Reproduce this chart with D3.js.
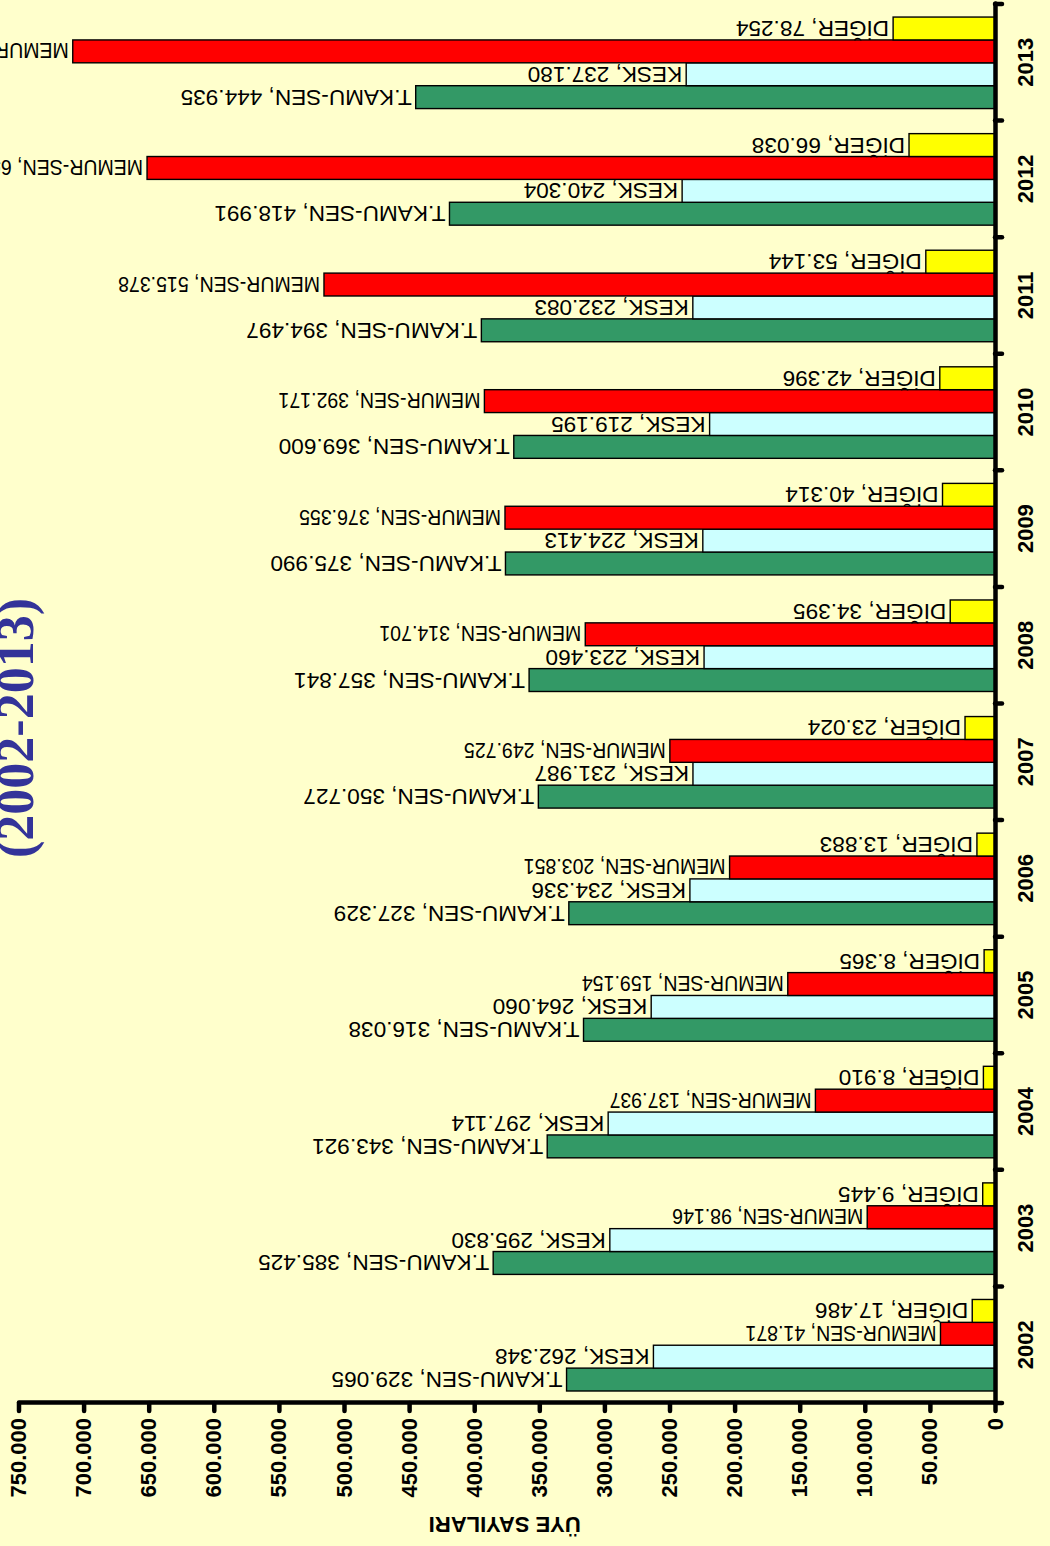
<!DOCTYPE html>
<html><head><meta charset="utf-8">
<script src="https://cdn.jsdelivr.net/npm/d3@7"></script>
<style>html,body{margin:0;padding:0;background:#FFFFCC;overflow:hidden}</style>
</head><body>
<script>
const years = ["2002","2003","2004","2005","2006","2007","2008","2009","2010","2011","2012","2013"];
const seriesNames = ["T.KAMU-SEN","KESK","MEMUR-SEN","DİĞER"];
const seriesColors = ["#339966","#CCFFFF","#FF0000","#FFFF00"];
const tkamuValues = [329065,385425,343921,316038,327329,350727,357841,375990,369600,394497,418991,444935];
const keskValues  = [262348,295830,297114,264060,234336,231987,223460,224413,219195,232083,240304,237180];
const memurValues = [41871,98146,137937,159154,203851,249725,314701,376355,392171,515378,651271,708334];
const digerValues = [17486,9445,8910,8365,13883,23024,34395,40314,42396,53144,66038,78254];
const valueTicks = [0,50000,100000,150000,200000,250000,300000,350000,400000,450000,500000,550000,600000,650000,700000,750000];
const titleText = "(2002-2013)";
const axisTitle = "ÜYE SAYILARI";

const allValues = [tkamuValues, keskValues, memurValues, digerValues];
const loc = d3.formatLocale({decimal:",", thousands:".", grouping:[3], currency:["",""]});
const fmt = loc.format(",d");

const PW = 1050, PH = 1546;           // page
const svg = d3.select("body").append("svg").attr("width", PW).attr("height", PH)
  .style("display","block").style("background","#FFFFCC");
svg.append("rect").attr("width",PW).attr("height",PH).attr("fill","#FFFFCC");

// the chart is drawn as a column chart and turned a quarter turn
const g = svg.append("g").attr("transform", `translate(0,${PH}) rotate(-90)`);

const plot = {left:143, right:1542, top:18.5, bottom:995};
const x0 = d3.scaleBand().domain(years).range([plot.left, plot.right]).paddingInner(0).paddingOuter(0);
const x1 = d3.scaleBand().domain(seriesNames).range([x0.bandwidth()*0.103, x0.bandwidth()*0.888]).padding(0);
const y = d3.scaleLinear().domain([0,750000]).range([plot.bottom, plot.top]);

const font = "'Liberation Sans', Arial, sans-serif";

// bars
seriesNames.forEach((s, si) => {
  g.append("g").selectAll("rect").data(years.map((yr,i)=>({yr, v: allValues[si][i]})))
    .join("rect")
    .attr("x", d => x0(d.yr) + x1(s))
    .attr("width", x1.bandwidth())
    .attr("y", d => y(d.v))
    .attr("height", d => y(0) - y(d.v))
    .attr("fill", seriesColors[si])
    .attr("stroke", "#000").attr("stroke-width", 1.4);
});

// data labels
seriesNames.forEach((s, si) => {
  const narrow = s === "MEMUR-SEN";
  g.append("g").selectAll("text").data(years.map((yr,i)=>({yr, v: allValues[si][i]})))
    .join("text")
    .attr("transform", d => `translate(${x0(d.yr) + x1(s) + x1.bandwidth()/2},${y(d.v) - 4}) rotate(-90)` + (narrow ? " scale(0.865,1)" : ""))
    .attr("text-anchor", "start")
    .attr("dominant-baseline", "central")
    .style("font-family", font).style("font-size", "22.6px").attr("fill", "#000")
    .text(d => `${s}, ${fmt(d.v)}`);
});

// value axis
const yAxis = d3.axisLeft(y).tickValues(valueTicks).tickFormat(fmt).tickSize(8).tickSizeOuter(0).tickPadding(7);
const ya = g.append("g").attr("transform", `translate(${plot.left},0)`).call(yAxis);
ya.select(".domain").attr("stroke","#000").attr("stroke-width",4.5).attr("stroke-linecap","round");
ya.selectAll(".tick line").attr("stroke","#000").attr("stroke-width",4.5).attr("stroke-linecap","round");
ya.selectAll(".tick text").style("font-family",font).style("font-size","22px").style("font-weight","bold").attr("fill","#000");

// category axis
const xAxis = d3.axisBottom(x0).tickSize(0).tickSizeOuter(0).tickPadding(22);
const xa = g.append("g").attr("transform", `translate(0,${plot.bottom})`).call(xAxis);
xa.select(".domain").attr("stroke","#000").attr("stroke-width",4.5).attr("stroke-linecap","round");
xa.selectAll(".tick text").style("font-family",font).style("font-size","22px").style("font-weight","bold").attr("fill","#000");
const bounds = years.map(yr => x0(yr)).concat([x0(years[years.length-1]) + x0.bandwidth()]);
xa.append("g").selectAll("line").data(bounds).join("line")
  .attr("x1", d=>d).attr("x2", d=>d).attr("y1", 0).attr("y2", 7)
  .attr("stroke","#000").attr("stroke-width",4.5).attr("stroke-linecap","round");

// axis title
g.append("text")
  .attr("transform", `translate(29,${(plot.top+plot.bottom)/2 - 2}) rotate(-90)`)
  .attr("text-anchor","middle")
  .style("font-family",font).style("font-size","22px").style("font-weight","bold")
  .text(axisTitle);

// chart title
g.append("text")
  .attr("x", 818).attr("y", 33)
  .attr("text-anchor","middle")
  .style("font-family","'Liberation Serif','Times New Roman',serif").style("font-size","52px").style("font-weight","bold")
  .attr("fill","#333399")
  .text(titleText);
</script>
</body></html>
